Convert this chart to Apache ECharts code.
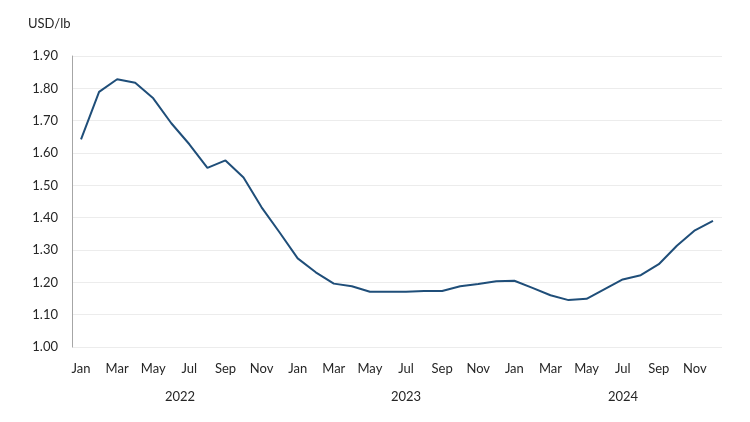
<!DOCTYPE html>
<html><head><meta charset="utf-8">
<script src="https://cdn.jsdelivr.net/npm/echarts@6/dist/echarts.min.js"></script>
<style>html,body{margin:0;padding:0;background:#fff}#c{width:750px;height:422px}</style>
</head><body><div id="c"></div>
<script>
const months = ['Jan','Feb','Mar','Apr','May','Jun','Jul','Aug','Sep','Oct','Nov','Dec'];
const years = ['2022','2023','2024'];
const categories = [];
years.forEach(y => months.forEach(m => categories.push(m + ' ' + y)));
const prices = [
  1.642, 1.789, 1.828, 1.817, 1.769, 1.692, 1.627, 1.554, 1.577, 1.524, 1.432, 1.354,
  1.274, 1.231, 1.196, 1.188, 1.171, 1.171, 1.171, 1.173, 1.173, 1.188, 1.195, 1.203,
  1.205, 1.183, 1.160, 1.145, 1.149, 1.179, 1.209, 1.222, 1.256, 1.313, 1.361, 1.390
];
const yTicks = { min: 1.0, max: 1.9, interval: 0.1 };
const unitLabel = 'USD/lb';
const yearLabelX = [180, 406, 623];

const FONT = 'Lato';
const chart = echarts.init(document.getElementById('c'), null, { renderer: 'canvas' });
chart.setOption({
  animation: false,
  backgroundColor: '#ffffff',
  grid: { left: 72, right: 28, top: 56, bottom: 75 },
  xAxis: {
    type: 'category',
    data: categories,
    boundaryGap: true,
    axisLine: { show: false },
    axisTick: { show: false },
    axisLabel: {
      interval: 1,
      margin: 15,
      fontFamily: FONT, fontSize: 13, color: '#262626',
      formatter: v => v.split(' ')[0]
    },
    splitLine: { show: false }
  },
  yAxis: {
    type: 'value',
    min: yTicks.min, max: yTicks.max, interval: yTicks.interval,
    axisLine: { show: true, lineStyle: { color: '#a6a6a6', width: 1 } },
    axisTick: { show: false },
    axisLabel: {
      margin: 14,
      fontFamily: FONT, fontSize: 13, color: '#262626',
      formatter: v => v.toFixed(2)
    },
    splitLine: { show: true, lineStyle: { color: '#ececec', width: 1 } }
  },
  graphic: [
    { type: 'text', left: 28, top: 17, style: { text: unitLabel, font: '13px ' + FONT, fill: '#262626' } }
  ].concat(years.map((y, i) => ({
    type: 'text', x: yearLabelX[i], y: 397,
    style: { text: y, font: '13px ' + FONT, fill: '#262626', textAlign: 'center', textVerticalAlign: 'middle' }
  }))),
  series: [{
    type: 'line',
    data: prices,
    symbol: 'none',
    lineStyle: { color: '#1f4e79', width: 2 },
    itemStyle: { color: '#1f4e79' }
  }]
});
</script></body></html>
